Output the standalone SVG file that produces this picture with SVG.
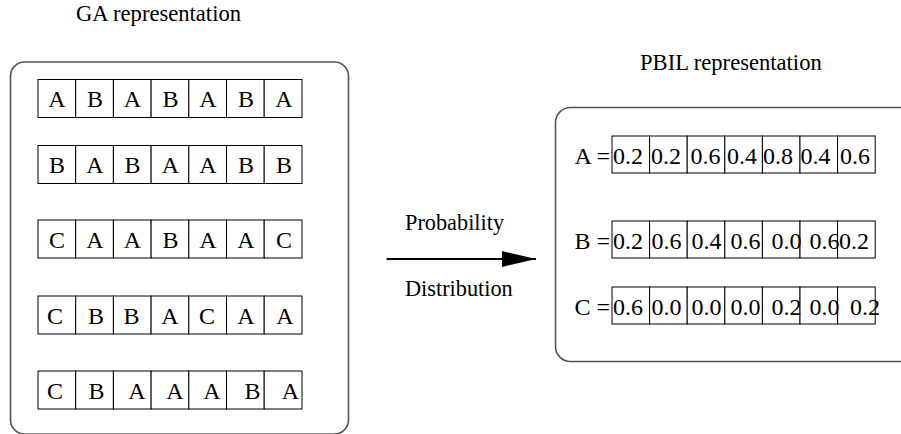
<svg xmlns="http://www.w3.org/2000/svg" width="901" height="434" viewBox="0 0 901 434">
<style>
text{font-family:"Liberation Serif","Times New Roman",serif;fill:#000}
.title{font-size:22.6px}
.lbl{font-size:22.3px}
.cell{fill:#fff;stroke:#000;stroke-width:1}
.ct{font-size:24px;text-anchor:middle}
.pt{font-size:24px}
.box{fill:none;stroke:#555;stroke-width:1.6}
</style>
<defs>
<marker id="ah" markerWidth="34" markerHeight="16" refX="34" refY="8" orient="auto" markerUnits="userSpaceOnUse">
<path d="M0,0 L34,8 L0,16 Z" fill="#000"/>
</marker>
</defs>

<g id="ga">
<text class="title" x="76" y="21">GA representation</text>
<rect class="box" x="10.5" y="62" width="338" height="372" rx="14" ry="14"/>
<g id="ga-row1">
<rect class="cell" x="38" y="79.5" width="37.7" height="38"/><rect class="cell" x="75.7" y="79.5" width="37.7" height="38"/><rect class="cell" x="113.4" y="79.5" width="37.7" height="38"/><rect class="cell" x="151.1" y="79.5" width="37.7" height="38"/><rect class="cell" x="188.8" y="79.5" width="37.7" height="38"/><rect class="cell" x="226.5" y="79.5" width="37.7" height="38"/><rect class="cell" x="264.2" y="79.5" width="37.8" height="38"/>
<text class="ct" y="107"><tspan x="57">A</tspan><tspan x="95">B</tspan><tspan x="132.5">A</tspan><tspan x="170.5">B</tspan><tspan x="208">A</tspan><tspan x="246">B</tspan><tspan x="284">A</tspan></text>
</g>
<g id="ga-row2">
<rect class="cell" x="38" y="145.5" width="37.7" height="38"/><rect class="cell" x="75.7" y="145.5" width="37.7" height="38"/><rect class="cell" x="113.4" y="145.5" width="37.7" height="38"/><rect class="cell" x="151.1" y="145.5" width="37.7" height="38"/><rect class="cell" x="188.8" y="145.5" width="37.7" height="38"/><rect class="cell" x="226.5" y="145.5" width="37.7" height="38"/><rect class="cell" x="264.2" y="145.5" width="37.8" height="38"/>
<text class="ct" y="173"><tspan x="57">B</tspan><tspan x="95">A</tspan><tspan x="132.5">B</tspan><tspan x="170.5">A</tspan><tspan x="208">A</tspan><tspan x="246">B</tspan><tspan x="284">B</tspan></text>
</g>
<g id="ga-row3">
<rect class="cell" x="38" y="220" width="37.7" height="38"/><rect class="cell" x="75.7" y="220" width="37.7" height="38"/><rect class="cell" x="113.4" y="220" width="37.7" height="38"/><rect class="cell" x="151.1" y="220" width="37.7" height="38"/><rect class="cell" x="188.8" y="220" width="37.7" height="38"/><rect class="cell" x="226.5" y="220" width="37.7" height="38"/><rect class="cell" x="264.2" y="220" width="37.8" height="38"/>
<text class="ct" y="247.5"><tspan x="57">C</tspan><tspan x="95">A</tspan><tspan x="132.5">A</tspan><tspan x="170.5">B</tspan><tspan x="208">A</tspan><tspan x="246">A</tspan><tspan x="284">C</tspan></text>
</g>
<g id="ga-row4">
<rect class="cell" x="38" y="296" width="37.7" height="38"/><rect class="cell" x="75.7" y="296" width="37.7" height="38"/><rect class="cell" x="113.4" y="296" width="37.7" height="38"/><rect class="cell" x="151.1" y="296" width="37.7" height="38"/><rect class="cell" x="188.8" y="296" width="37.7" height="38"/><rect class="cell" x="226.5" y="296" width="37.7" height="38"/><rect class="cell" x="264.2" y="296" width="37.8" height="38"/>
<text class="ct" y="323.5"><tspan x="55">C</tspan><tspan x="96">B</tspan><tspan x="131.5">B</tspan><tspan x="170">A</tspan><tspan x="207">C</tspan><tspan x="246">A</tspan><tspan x="285">A</tspan></text>
</g>
<g id="ga-row5">
<rect class="cell" x="38" y="371" width="37.7" height="38"/><rect class="cell" x="75.7" y="371" width="37.7" height="38"/><rect class="cell" x="113.4" y="371" width="37.7" height="38"/><rect class="cell" x="151.1" y="371" width="37.7" height="38"/><rect class="cell" x="188.8" y="371" width="37.7" height="38"/><rect class="cell" x="226.5" y="371" width="37.7" height="38"/><rect class="cell" x="264.2" y="371" width="37.8" height="38"/>
<text class="ct" y="398.5"><tspan x="55">C</tspan><tspan x="96.5">B</tspan><tspan x="137">A</tspan><tspan x="175">A</tspan><tspan x="212">A</tspan><tspan x="252.5">B</tspan><tspan x="290.5">A</tspan></text>
</g>
</g>

<g id="connectors">
<line x1="386.5" y1="259" x2="536" y2="259" stroke="#000" stroke-width="2" marker-end="url(#ah)"/>
<text class="lbl" x="405" y="230">Probability</text>
<text class="lbl" x="405" y="296">Distribution</text>
</g>

<g id="pbil">
<text class="title" x="640" y="70">PBIL representation</text>
<rect class="box" x="555.5" y="107.5" width="380" height="254" rx="15" ry="15"/>
<g id="pbil-A">
<rect class="cell" x="612" y="136" width="37.6" height="37"/><rect class="cell" x="649.6" y="136" width="37.6" height="37"/><rect class="cell" x="687.2" y="136" width="37.6" height="37"/><rect class="cell" x="724.8" y="136" width="37.6" height="37"/><rect class="cell" x="762.4" y="136" width="37.6" height="37"/><rect class="cell" x="800" y="136" width="37.6" height="37"/><rect class="cell" x="837.6" y="136" width="37.6" height="37"/>
<text class="pt" x="610" y="163.5" text-anchor="end">A =</text>
<text class="pt" y="163.5"><tspan x="613">0.2</tspan><tspan x="651">0.2</tspan><tspan x="690.5">0.6</tspan><tspan x="727">0.4</tspan><tspan x="763">0.8</tspan><tspan x="800.5">0.4</tspan><tspan x="840">0.6</tspan></text>
</g>
<g id="pbil-B">
<rect class="cell" x="612" y="221" width="37.6" height="37"/><rect class="cell" x="649.6" y="221" width="37.6" height="37"/><rect class="cell" x="687.2" y="221" width="37.6" height="37"/><rect class="cell" x="724.8" y="221" width="37.6" height="37"/><rect class="cell" x="762.4" y="221" width="37.6" height="37"/><rect class="cell" x="800" y="221" width="37.6" height="37"/><rect class="cell" x="837.6" y="221" width="37.6" height="37"/>
<text class="pt" x="610" y="249" text-anchor="end">B =</text>
<text class="pt" y="249"><tspan x="613">0.2</tspan><tspan x="651.5">0.6</tspan><tspan x="691.5">0.4</tspan><tspan x="730.5">0.6</tspan><tspan x="771.5">0.0</tspan><tspan x="809.5">0.6</tspan><tspan x="839">0.2</tspan></text>
</g>
<g id="pbil-C">
<rect class="cell" x="612" y="287" width="37.6" height="37"/><rect class="cell" x="649.6" y="287" width="37.6" height="37"/><rect class="cell" x="687.2" y="287" width="37.6" height="37"/><rect class="cell" x="724.8" y="287" width="37.6" height="37"/><rect class="cell" x="762.4" y="287" width="37.6" height="37"/><rect class="cell" x="800" y="287" width="37.6" height="37"/><rect class="cell" x="837.6" y="287" width="37.6" height="37"/>
<text class="pt" x="610" y="315" text-anchor="end">C =</text>
<text class="pt" y="315"><tspan x="613">0.6</tspan><tspan x="651.5">0.0</tspan><tspan x="691.5">0.0</tspan><tspan x="730.5">0.0</tspan><tspan x="771.5">0.2</tspan><tspan x="809.5">0.0</tspan><tspan x="850">0.2</tspan></text>
</g>
</g>
</svg>
